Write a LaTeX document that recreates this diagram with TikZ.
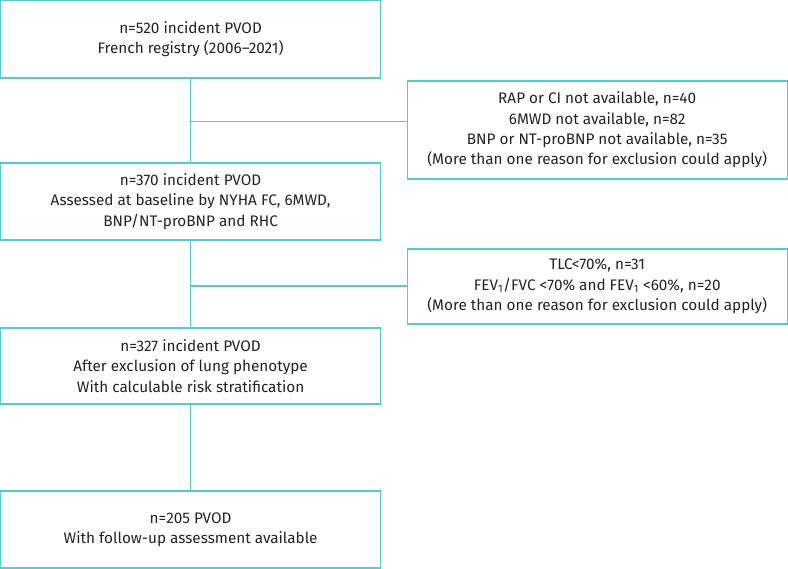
\documentclass[tikz,border=0pt]{standalone}
\usepackage{fontspec}
\setmainfont{Fira Sans}
\usepackage{tikz}
\definecolor{flowteal}{RGB}{86,202,206}
\definecolor{flowtext}{RGB}{35,35,35}

\begin{document}
\begin{tikzpicture}[x=1pt, y=-1pt,
    every node/.style={draw=flowteal, line width=1.1pt, rectangle, align=center, inner sep=0pt,
        text=flowtext, font=\fontsize{15.3}{20.4}\selectfont},
    mainbox/.style={minimum width=379.5pt},
    exbox/.style={minimum width=380pt},
    link/.style={draw=flowteal, line width=1.1pt}]
    \useasboundingbox (0,0) rectangle (788,569);

    \node[mainbox, minimum height=77.5pt] (reg) at (190.6,39.3) {n=520 incident PVOD\\French registry (2006--2021)};
    \node[exbox, minimum height=98pt] (exa) at (597.2,130) {RAP or CI not available, n=40\\6MWD not available, n=82\\BNP or NT-proBNP not available, n=35\\(More than one reason for exclusion could apply)};
    \node[mainbox, minimum height=77pt] (base) at (190.6,201.5) {n=370 incident PVOD\\Assessed at baseline by NYHA FC, 6MWD,\\BNP/NT-proBNP and RHC};
    \node[exbox, minimum height=75pt] (exb) at (597.2,286.5) {TLC<70\%, n=31\\FEV\textsubscript{1}/FVC <70\% and FEV\textsubscript{1} <60\%, n=20\\(More than one reason for exclusion could apply)};
    \node[mainbox, minimum height=76pt] (lung) at (190.6,366) {n=327 incident PVOD\\After exclusion of lung phenotype\\With calculable risk stratification};
    \node[mainbox, minimum height=77pt] (fup) at (190.6,529.5) {n=205 PVOD\\With follow-up assessment available};

    \coordinate (ja) at (190.6,121.7);
    \coordinate (jb) at (190.6,286);

    \draw[link] (reg) -- (base);
    \draw[link] (base) -- (lung);
    \draw[link] (lung) -- (fup);
    \draw[link] (ja) -- (ja -| exa.west);
    \draw[link] (jb) -- (jb -| exb.west);
\end{tikzpicture}
\end{document}
